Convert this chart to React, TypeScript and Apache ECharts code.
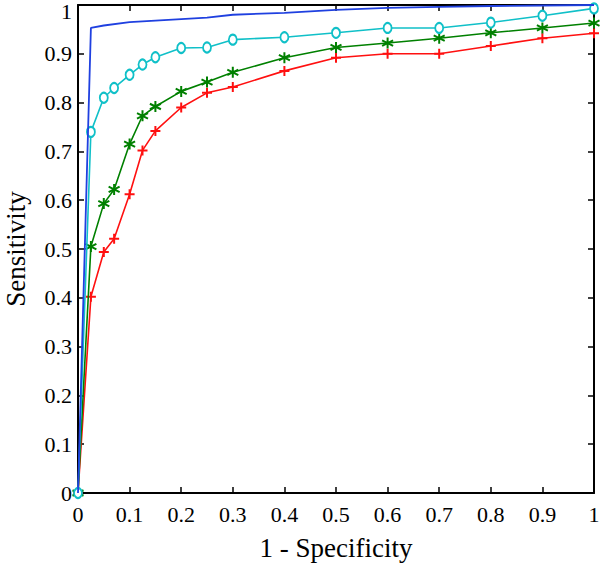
import React, { useEffect, useRef } from "react";
import * as echarts from "echarts";

const xBlue = [0, 0.025, 0.05, 0.1, 0.15, 0.2, 0.25, 0.3, 0.4, 0.5, 0.6, 0.7, 0.8, 0.9, 1];
const yBlue = [0, 0.953, 0.958, 0.965, 0.968, 0.971, 0.974, 0.98, 0.984, 0.99, 0.994, 0.996, 0.998, 0.999, 1];

const xMark = [0, 0.025, 0.05, 0.07, 0.1, 0.125, 0.15, 0.2, 0.25, 0.3, 0.4, 0.5, 0.6, 0.7, 0.8, 0.9, 1];
const yCyan = [0, 0.74, 0.81, 0.83, 0.857, 0.878, 0.893, 0.912, 0.913, 0.929, 0.934, 0.943, 0.953, 0.953, 0.964, 0.978, 0.993];
const yGreen = [0, 0.505, 0.593, 0.622, 0.715, 0.773, 0.792, 0.823, 0.842, 0.862, 0.892, 0.913, 0.922, 0.932, 0.943, 0.953, 0.963];
const yRed = [0, 0.402, 0.494, 0.521, 0.612, 0.702, 0.742, 0.79, 0.82, 0.832, 0.865, 0.892, 0.9, 0.9, 0.916, 0.932, 0.942];

const yTopLabel = "1";

const FONT = "Liberation Serif";

const pair = (xs: number[], ys: number[]) => xs.map((x, i) => [x, ys[i]]);

const STAR = "path://M0,-5L0,5M-4.33,-2.5L4.33,2.5M-4.33,2.5L4.33,-2.5";
const PLUS = "path://M0,-5L0,5M-5,0L5,0";

export default function App() {
  const ref = useRef<HTMLDivElement>(null);
  useEffect(() => {
    if (!ref.current) return;
    const chart = echarts.init(ref.current, null, { renderer: "svg" });
    const axisCommon = {
      type: "value",
      min: 0,
      max: 1,
      interval: 0.1,
      axisLine: { show: true, onZero: false, lineStyle: { color: "#000", width: 2 } },
      axisTick: { show: true, inside: true, length: 6, lineStyle: { color: "#000", width: 1.5 } },
      splitLine: { show: false },
    };
    chart.setOption({
      animation: false,
      backgroundColor: "#fff",
      grid: { left: 78, right: 6, top: 5, bottom: 70, containLabel: false, outerBoundsMode: "none" },
      graphic: [
        {
          type: "text",
          right: 600 - 72,
          top: 0,
          style: { text: yTopLabel, fontFamily: FONT, fontSize: 22, fill: "#000" },
        },
      ],
      xAxis: [
        {
          ...axisCommon,
          position: "bottom",
          name: "1 - Specificity",
          nameLocation: "middle",
          nameGap: 41,
          nameTextStyle: { fontFamily: FONT, fontSize: 27, color: "#000" },
          axisLabel: { fontFamily: FONT, fontSize: 22, color: "#000", margin: 10 },
        },
        {
          ...axisCommon,
          position: "top",
          axisLabel: { show: false },
        },
      ],
      yAxis: [
        {
          ...axisCommon,
          position: "left",
          name: "Sensitivity",
          nameLocation: "middle",
          nameGap: 49,
          nameTextStyle: { fontFamily: FONT, fontSize: 27, color: "#000" },
          axisLabel: {
            fontFamily: FONT,
            fontSize: 22,
            color: "#000",
            margin: 6,
            formatter: (v: number) => (v === 1 ? "" : String(Math.round(v * 10) / 10)),
          },
        },
        {
          ...axisCommon,
          position: "right",
          axisLabel: { show: false },
        },
      ],
      series: [
        {
          type: "line",
          data: pair(xMark, yRed),
          symbol: PLUS,
          symbolSize: 10,
          lineStyle: { color: "#ff1010", width: 1.6 },
          itemStyle: { color: "rgba(0,0,0,0)", borderColor: "#ff1010", borderWidth: 2 },
          z: 2,
        },
        {
          type: "line",
          data: pair(xMark, yGreen),
          symbol: STAR,
          symbolSize: 11,
          lineStyle: { color: "#008000", width: 1.6 },
          itemStyle: { color: "rgba(0,0,0,0)", borderColor: "#008000", borderWidth: 2 },
          z: 3,
        },
        {
          type: "line",
          data: pair(xMark, yCyan),
          symbol: "emptyCircle",
          symbolSize: [8, 10],
          lineStyle: { color: "#10c0c8", width: 1.6 },
          itemStyle: { color: "#10c0c8", borderColor: "#10c0c8", borderWidth: 2 },
          z: 4,
        },
        {
          type: "line",
          data: pair(xBlue, yBlue),
          showSymbol: false,
          symbol: "none",
          lineStyle: { color: "#1f40e0", width: 1.8 },
          z: 5,
        },
      ],
    });
    return () => chart.dispose();
  }, []);
  return <div ref={ref} style={{ width: 600, height: 563, position: "absolute", left: 0, top: 0 }} />;
}
